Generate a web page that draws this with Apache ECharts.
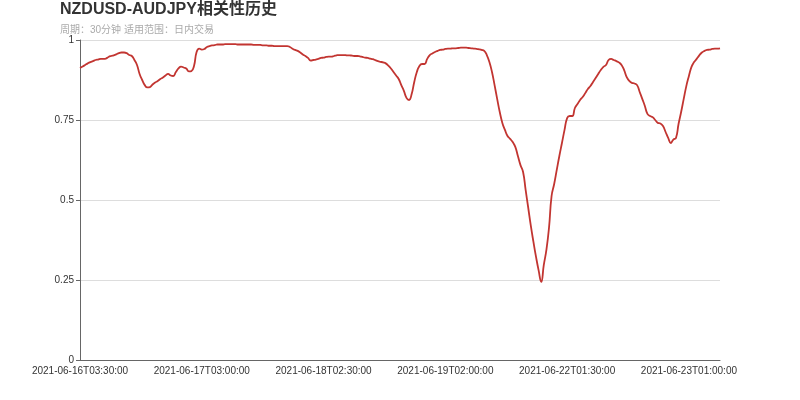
<!DOCTYPE html>
<html>
<head>
<meta charset="utf-8">
<script src="https://cdn.jsdelivr.net/npm/echarts@6/dist/echarts.min.js"></script>
<style>html,body{margin:0;padding:0;background:#fff}#c{width:800px;height:400px}</style>
</head>
<body>
<div id="c"></div>
<script>
// Chart text
const titleText = 'NZDUSD-AUDJPY相关性历史';
const subTitleText = '周期：30分钟 适用范围：日内交易';

// Trading sessions of 30-minute bars (weekend gap between them), UTC-style wall clock
const sessions = [
  ['2021-06-16T03:30:00', '2021-06-19T04:30:00'],
  ['2021-06-21T05:00:00', '2021-06-23T07:00:00']
];

// Correlation values, one per 30-minute bar
const values = [
  0.9125,0.917,0.922,0.927,0.931,0.934,0.9375,0.939,0.941,0.941,
  0.942,0.947,0.950,0.952,0.955,0.959,0.961,0.961,0.959,0.953,
  0.950,0.9375,0.922,0.894,0.875,0.859,0.852,0.853,0.861,0.867,
  0.872,0.878,0.883,0.889,0.894,0.889,0.8875,0.900,0.911,0.917,
  0.914,0.911,0.902,0.903,0.919,0.9625,0.973,0.970,0.972,0.978,
  0.981,0.983,0.984,0.986,0.986,0.986,0.987,0.987,0.987,0.987,
  0.987,0.986,0.986,0.986,0.986,0.986,0.986,0.985,0.985,0.985,
  0.984,0.983,0.983,0.982,0.982,0.981,0.981,0.981,0.981,0.981,
  0.981,0.978,0.973,0.969,0.966,0.961,0.955,0.950,0.944,0.936,
  0.9375,0.939,0.941,0.944,0.945,0.947,0.948,0.948,0.950,0.952,
  0.953,0.953,0.953,0.952,0.952,0.951,0.950,0.950,0.949,0.947,
  0.945,0.944,0.942,0.940,0.937,0.934,0.932,0.930,0.927,0.920,
  0.911,0.900,0.889,0.878,0.859,0.841,0.819,0.8125,0.831,0.869,
  0.900,0.919,0.925,0.925,0.941,0.953,0.958,0.9625,0.966,0.969,
  0.970,0.972,0.973,0.973,0.974,0.974,0.975,0.976,0.976,0.976,
  0.975,0.974,0.973,0.9725,0.971,0.969,0.966,0.953,0.931,0.900,
  0.859,0.816,0.775,0.741,0.719,0.700,0.691,0.681,0.666,0.6375,
  0.609,0.5875,0.531,0.475,0.419,0.369,0.322,0.28,0.244,0.297,
  0.344,0.4125,0.5125,0.55,0.594,0.6375,0.678,0.719,0.756,0.7625,
  0.7625,0.7875,0.8,0.8125,0.822,0.834,0.847,0.856,0.869,0.881,
  0.894,0.906,0.916,0.922,0.9375,0.941,0.9375,0.934,0.930,0.922,
  0.906,0.884,0.872,0.866,0.864,0.859,0.8375,0.816,0.794,0.769,
  0.7625,0.759,0.75,0.741,0.739,0.731,0.7125,0.694,0.678,0.689,
  0.694,0.7375,0.775,0.816,0.856,0.8875,0.916,0.931,0.941,0.952,
  0.961,0.966,0.969,0.970,0.972,0.973,0.973,0.974
];

// Y axis ticks
const yMin = 0, yMax = 1, yStep = 0.25;

// Build the category labels from the sessions (every 30 minutes)
function pad(n){ return (n < 10 ? '0' : '') + n; }
function parseT(s){
  const m = s.match(/(\d+)-(\d+)-(\d+)T(\d+):(\d+):(\d+)/);
  return Date.UTC(+m[1], +m[2]-1, +m[3], +m[4], +m[5], +m[6]);
}
function fmt(t){
  const d = new Date(t);
  return d.getUTCFullYear() + '-' + pad(d.getUTCMonth()+1) + '-' + pad(d.getUTCDate()) +
    'T' + pad(d.getUTCHours()) + ':' + pad(d.getUTCMinutes()) + ':' + pad(d.getUTCSeconds());
}
const categories = [];
sessions.forEach(function(s){
  for (let t = parseT(s[0]); t <= parseT(s[1]); t += 30*60*1000) categories.push(fmt(t));
});

const chart = echarts.init(document.getElementById('c'), null, {renderer: 'canvas'});
chart.setOption({
  animation: false,
  backgroundColor: '#fff',
  textStyle: { fontFamily: 'Liberation Sans, Arial, sans-serif' },
  title: {
    text: titleText,
    subtext: subTitleText,
    left: 55,
    top: 0,
    padding: [2, 5, 5, 5],
    itemGap: 7,
    textStyle: { fontSize: 16, fontWeight: 'bold', color: '#333',
                 fontFamily: 'Liberation Sans, Noto Sans CJK SC, sans-serif' },
    subtextStyle: { fontSize: 10, color: '#aaa',
                    fontFamily: 'Liberation Sans, Noto Sans CJK SC, sans-serif' }
  },
  grid: { left: 80, right: 80, top: 40, bottom: 40, containLabel: false },
  xAxis: {
    type: 'category',
    data: categories,
    boundaryGap: false,
    axisLine: { lineStyle: { color: '#666' } },
    axisTick: { show: false },
    axisLabel: { interval: 46, fontSize: 10, color: '#333', margin: 6 },
    splitLine: { show: false }
  },
  yAxis: {
    type: 'value',
    min: yMin, max: yMax, interval: yStep,
    axisLine: { show: true, lineStyle: { color: '#666' } },
    axisTick: { show: true, length: 4, lineStyle: { color: '#666' } },
    axisLabel: { fontSize: 10, color: '#333', margin: 6 },
    splitLine: { lineStyle: { color: '#ddd' } }
  },
  series: [{
    type: 'line',
    data: values,
    smooth: true,
    showSymbol: false,
    symbol: 'none',
    lineStyle: { width: 1.8, color: '#c23531' },
    itemStyle: { color: '#c23531' }
  }]
});
</script>
</body>
</html>
